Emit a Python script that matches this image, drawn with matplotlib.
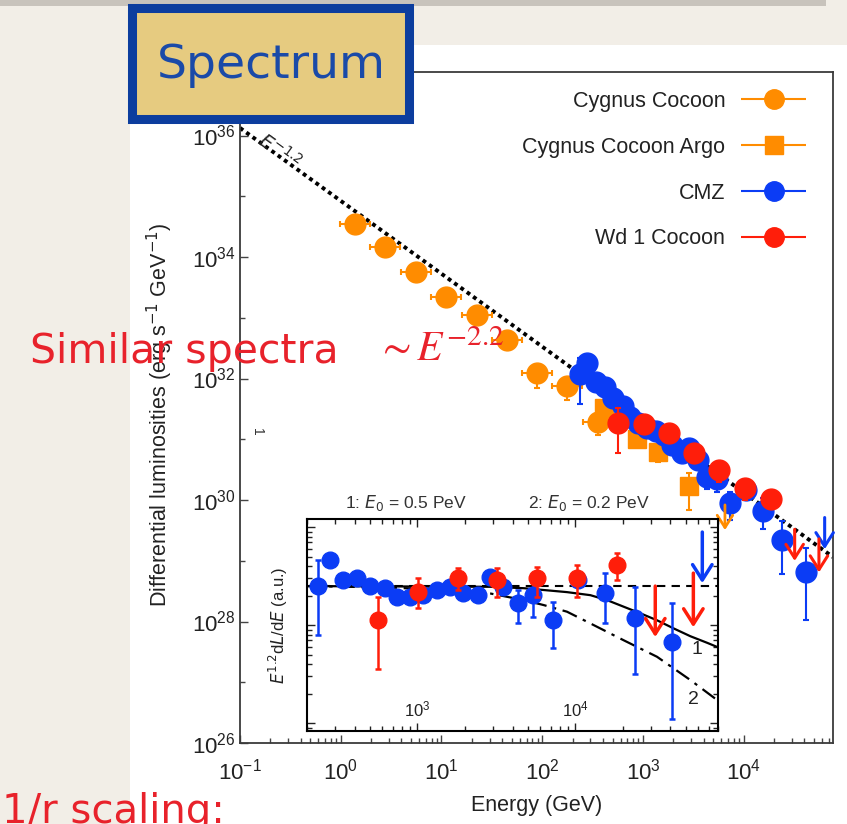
import numpy as np
import matplotlib
matplotlib.use("Agg")
import matplotlib.pyplot as plt
from matplotlib.patches import Rectangle
from matplotlib.ticker import LogLocator, FixedLocator, NullFormatter
from matplotlib.legend_handler import HandlerErrorbar

plt.rcParams['font.family'] = ['Liberation Sans', 'DejaVu Sans']

# --- data ---------------------------------------------------------------
# Cygnus Cocoon (Fermi-LAT / HAWC), E in GeV, L in erg s^-1 GeV^-1
cyg_E = [1.385, 2.75, 5.58, 11.08, 22.5, 44.7, 88.7, 176, 357]
cyg_E_lo = [0.98, 1.95, 3.95, 7.84, 15.9, 31.6, 62.8, 125, 253]
cyg_E_hi = [1.96, 3.89, 7.89, 15.7, 31.8, 63.2, 125, 249, 505]
cyg_L = [3.47e34, 1.45e34, 5.6e33, 2.2e33, 1.12e33, 4.3e32, 1.23e32, 7.6e31, 1.9e31]
cyg_L_lo = [2.9e34, 1.2e34, 4.7e33, 1.8e33, 9.3e32, 3.6e32, 6.9e31, 4.5e31, 1.17e31]
cyg_L_hi = [4.2e34, 1.75e34, 6.7e33, 2.6e33, 1.35e33, 5.2e32, 1.6e32, 1.0e32, 2.5e31]

# Cygnus Cocoon, ARGO-YBJ
argo_E = [410, 872, 1409, 2862]
argo_L = [3.27e31, 1.01e31, 6.17e30, 1.70e30]
argo_L_lo = [2.6e31, 7.4e30, 4.3e30, 6.8e29]
argo_L_hi = [4.0e31, 1.35e31, 7.5e30, 2.75e30]
argo_ul_E = [6517]
argo_ul_top = [8.3e29]
argo_ul_tip = [3.2e29]

# CMZ, given as E^1.2 dL/dE in arbitrary units (inset scale)
cmz_E = [236, 281, 340, 417, 504, 627, 747, 903, 1091, 1339, 1619, 1954,
         2432, 2897, 3501, 4357, 5420, 7256, 10450, 15490, 23990, 41110]
cmz_f = [2.5, 4.6, 2.88, 3.02, 2.5, 2.39, 1.93, 1.93, 2.02, 2.27, 2.44, 2.12,
         2.02, 3.09, 2.44, 1.68, 2.02, 1.12, 2.88, 2.12, 1.18, 0.67]
cmz_lo = [0.79, 4.2, 2.6, 2.75, 2.25, 2.15, 1.75, 1.75, 1.82, 2.05, 2.2, 1.9,
          1.82, 2.8, 2.2, 1.05, 1.21, 0.59, 2.6, 1.05, 0.32, 0.11]
cmz_hi = [4.6, 5.0, 3.15, 3.3, 2.75, 2.6, 2.12, 2.12, 2.22, 2.5, 2.68, 2.33,
          2.22, 3.4, 2.68, 2.27, 2.88, 1.73, 3.15, 3.39, 2.44, 1.68]
cmz_ul_E = [63640]
cmz_ul_top = [8.9]
cmz_ul_tip = [2.68]

# Westerlund 1 cocoon, same units
wd1_E = [566, 1014, 1815, 3206, 5743, 10300, 18460]
wd1_f = [1.12, 2.17, 3.02, 2.88, 3.02, 3.02, 4.09]
wd1_lo = [0.355, 1.49, 2.28, 1.93, 1.93, 1.93, 2.88]
wd1_hi = [1.93, 3.02, 3.81, 3.81, 3.9, 4.1, 5.5]
wd1_ul_E = [32060, 55850]
wd1_ul_top = [2.5, 3.39]
wd1_ul_tip = [0.755, 0.95]

# E^-1.2 reference: L = K E^-1.2, shown at level F0 in the inset
K = 8.4e34
F0 = 2.5
line_E = [0.1, 7.7e4]

# cutoff models in the inset (1: E0 = 0.5 PeV, 2: E0 = 0.2 PeV)
cut1_E = [200, 2900, 4710, 6310, 8850, 12450, 15850, 20230, 25770, 32880,
          41900, 53450, 68200, 82800]
cut1_f = [2.5, 2.46, 2.38, 2.28, 2.17, 2.02, 1.80, 1.54, 1.32, 1.12,
          0.925, 0.77, 0.66, 0.58]
cut2_E = [200, 675, 1780, 2900, 4710, 6310, 8850, 12450, 20230, 32880,
          53450, 78900]
cut2_f = [2.5, 2.42, 2.24, 2.10, 1.80, 1.60, 1.37, 1.04, 0.70, 0.475,
          0.275, 0.172]

ORANGE = '#ff8c00'
BLUE = '#0b3cf5'
RED = '#ff1e0a'
W, H = 847, 824


def fx(px):
    return px / W


def fy(py):
    return 1 - py / H


def to_lum(E, f):
    E = np.asarray(E, float)
    return K * E ** -1.2 * np.asarray(f, float) / F0


def arrows(axis, E, top, tip, color, lw, scale):
    for e, a, b in zip(E, top, tip):
        axis.annotate('', xy=(e, b), xytext=(e, a),
                      arrowprops=dict(arrowstyle='->,head_length=0.55,head_width=0.35',
                                      color=color, lw=lw, mutation_scale=scale,
                                      shrinkA=0, shrinkB=0), zorder=6)


fig = plt.figure(figsize=(8.47, 8.24), dpi=100)
fig.patch.set_facecolor('#f2eee7')
fig.add_artist(Rectangle((fx(130), 0), 1 - fx(130), fy(45), transform=fig.transFigure,
                         facecolor='white', edgecolor='none', zorder=-5))
fig.add_artist(Rectangle((0, fy(6)), fx(826), 6 / H, transform=fig.transFigure,
                         facecolor='#c8c3bc', edgecolor='none', zorder=-4))

# --- main panel ---------------------------------------------------------
ax = fig.add_axes([fx(240), fy(743), fx(833) - fx(240), fy(72) - fy(743)])
ax.set_xscale('log')
ax.set_yscale('log')
ax.set_xlim(0.1, 7.7e4)
ax.set_ylim(1e26, 1.11e37)

ax.plot(line_E, K * np.asarray(line_E) ** -1.2, color='black', lw=2.8,
        ls=(0, (1, 1)), zorder=2)
ax.text(0.245, 5.4e35, r'$E^{-1.2}$', rotation=-36, ha='center', va='center',
        fontsize=14, color='#222')

E = np.array(cyg_E)
L = np.array(cyg_L)
ax.errorbar(E, L, xerr=[E - cyg_E_lo, np.array(cyg_E_hi) - E],
            yerr=[L - cyg_L_lo, np.array(cyg_L_hi) - L], fmt='o', color=ORANGE,
            ms=15, elinewidth=1.5, capsize=2.5, capthick=1.5, zorder=3)
L = np.array(argo_L)
ax.errorbar(argo_E, L, yerr=[L - argo_L_lo, np.array(argo_L_hi) - L], fmt='s',
            color=ORANGE, ms=13.5, elinewidth=1.5, capsize=2.5, capthick=1.5, zorder=3)
arrows(ax, argo_ul_E, argo_ul_top, argo_ul_tip, ORANGE, 2, 16)

L = to_lum(cmz_E, cmz_f)
ax.errorbar(cmz_E, L, yerr=[L - to_lum(cmz_E, cmz_lo), to_lum(cmz_E, cmz_hi) - L],
            fmt='o', color=BLUE, ms=15, elinewidth=1.5, capsize=2.5, capthick=1.5,
            zorder=4)
arrows(ax, cmz_ul_E, to_lum(cmz_ul_E, cmz_ul_top), to_lum(cmz_ul_E, cmz_ul_tip),
       BLUE, 2.2, 18)
L = to_lum(wd1_E, wd1_f)
ax.errorbar(wd1_E, L, yerr=[L - to_lum(wd1_E, wd1_lo), to_lum(wd1_E, wd1_hi) - L],
            fmt='o', color=RED, ms=15, elinewidth=1.5, capsize=2.5, capthick=1.5,
            zorder=5)
arrows(ax, wd1_ul_E, to_lum(wd1_ul_E, wd1_ul_top), to_lum(wd1_ul_E, wd1_ul_tip),
       RED, 2.2, 18)

ax.yaxis.set_major_locator(FixedLocator([1e26, 1e28, 1e30, 1e32, 1e34, 1e36]))
ax.yaxis.set_minor_locator(FixedLocator([1e27, 1e29, 1e31, 1e33, 1e35]))
ax.yaxis.set_minor_formatter(NullFormatter())
ax.xaxis.set_major_locator(LogLocator(base=10, numticks=12))
ax.xaxis.set_minor_locator(LogLocator(base=10, subs=np.arange(2, 10), numticks=12))
ax.xaxis.set_minor_formatter(NullFormatter())
ax.tick_params(which='both', direction='in', top=False, right=False,
               colors='#444', labelcolor='#222', labelsize=16)
ax.tick_params(which='major', length=6, width=1)
ax.tick_params(which='minor', length=3.5, width=1)
ax.tick_params(axis='x', pad=11)
ax.tick_params(axis='y', pad=3)
for s in ax.spines.values():
    s.set_color('#3a3a3a')
    s.set_linewidth(1.3)

ax.set_xlabel('Energy (GeV)', fontsize=15.5, color='#222')
ax.xaxis.set_label_coords(0.5, -0.077)
ax.set_ylabel(r'Differential luminosities (erg s$^{-1}$ GeV$^{-1}$)', fontsize=15.5,
              color='#222')
ax.yaxis.set_label_coords(-0.109, 0.489)

# legend with horizontal bars, label left of the marker
handles = []
for lab, mk, col in [('Cygnus Cocoon', 'o', ORANGE), ('Cygnus Cocoon Argo', 's', ORANGE),
                     ('CMZ', 'o', BLUE), ('Wd 1 Cocoon', 'o', RED)]:
    h = ax.errorbar(np.zeros(0), np.zeros(0), xerr=np.zeros(0), fmt=mk, color=col,
                    ms=14 if mk == 'o' else 13, elinewidth=1.5, capsize=2.5,
                    capthick=1.5, label=lab)
    handles.append(h)
ax.legend(handles=handles, loc='upper right', bbox_to_anchor=(fx(806), fy(91)),
          bbox_transform=fig.transFigure, frameon=False, markerfirst=False,
          handlelength=3.0, handletextpad=0.75, labelspacing=1.15, borderpad=0,
          borderaxespad=0, fontsize=15.5, numpoints=1, labelcolor='#222',
          handler_map={h: HandlerErrorbar(xerr_size=1.5) for h in handles})

# --- inset: E^1.2 dL/dE -------------------------------------------------
axin = fig.add_axes([fx(307), fy(731), fx(718) - fx(307), fy(519) - fy(731)], zorder=5)
axin.set_xscale('log')
axin.set_yscale('log')
axin.set_xlim(200, 8.0e4)
axin.set_ylim(0.083, 12.1)

axin.axhline(F0, color='black', lw=1.5, ls=(0, (4, 3)), zorder=2)
axin.plot(cut1_E, cut1_f, color='black', lw=1.6, zorder=2)
axin.plot(cut2_E, cut2_f, color='black', lw=1.6, ls=(0, (7, 3, 1.5, 3)), zorder=2)

f = np.array(cmz_f)
axin.errorbar(cmz_E, f, yerr=[f - cmz_lo, np.array(cmz_hi) - f], fmt='o', color=BLUE,
              ms=12, elinewidth=1.8, capsize=2.5, capthick=1.8, zorder=3)
arrows(axin, cmz_ul_E, cmz_ul_top, cmz_ul_tip, BLUE, 2.5, 20)
f = np.array(wd1_f)
axin.errorbar(wd1_E, f, yerr=[f - wd1_lo, np.array(wd1_hi) - f], fmt='o', color=RED,
              ms=12, elinewidth=1.8, capsize=2.5, capthick=1.8, zorder=4)
arrows(axin, wd1_ul_E, wd1_ul_top, wd1_ul_tip, RED, 2.5, 20)

axin.xaxis.set_minor_locator(LogLocator(base=10, subs=np.arange(2, 10), numticks=12))
axin.xaxis.set_minor_formatter(NullFormatter())
axin.yaxis.set_minor_locator(LogLocator(base=10, subs=np.arange(2, 10), numticks=12))
axin.yaxis.set_minor_formatter(NullFormatter())
axin.tick_params(which='both', direction='in', top=True, right=True, labelleft=False,
                 colors='#222', labelsize=12)
axin.tick_params(which='major', length=6, width=1)
axin.tick_params(which='minor', length=3.5, width=1)
axin.tick_params(axis='x', which='major', pad=-23)
for s in axin.spines.values():
    s.set_linewidth(1.5)
axin.set_ylabel(r'$E^{1.2}$d$L$/d$E$ (a.u.)', fontsize=12, color='#222')
axin.yaxis.set_label_coords(-0.042, 0.5)

fig.text(fx(697), fy(650), '1', fontsize=14, color='#222', ha='center', va='center',
         zorder=20)
fig.text(fx(693), fy(700), '2', fontsize=14, color='#222', ha='center', va='center',
         zorder=20)
fig.text(fx(345), fy(503), r'1: $E_0$ = 0.5 PeV', fontsize=12.5, color='#333',
         ha='left', va='center')
fig.text(fx(528), fy(503), r'2: $E_0$ = 0.2 PeV', fontsize=12.5, color='#333',
         ha='left', va='center')
fig.text(fx(257), fy(432), '1', fontsize=10, color='#333', rotation=-90,
         ha='center', va='center')

# --- slide decorations ----------------------------------------------------
fig.add_artist(Rectangle((fx(132), fy(119)), fx(409) - fx(132), fy(8) - fy(119),
                         transform=fig.transFigure, facecolor='#e6cb80',
                         edgecolor='#0c3d9e', lw=6.5, zorder=15))
fig.text(fx(271), fy(66), 'Spectrum', fontsize=34, color='#1a4aa8', ha='center',
         va='center', family='DejaVu Sans', zorder=16)
fig.text(fx(30), fy(352), 'Similar spectra', fontsize=29.5, color='#e8222b',
         ha='left', va='center', family='DejaVu Sans', zorder=20)
fig.text(fx(376), fy(350), r'$\sim E^{-2.2}$', fontsize=30, color='#e8222b',
         ha='left', va='center', math_fontfamily='stix', zorder=20)
fig.text(fx(2), fy(792), '1/r scaling:', fontsize=29, color='#e8222b',
         ha='left', va='top', family='DejaVu Sans', zorder=20)

fig.savefig('out.png', dpi=100)
